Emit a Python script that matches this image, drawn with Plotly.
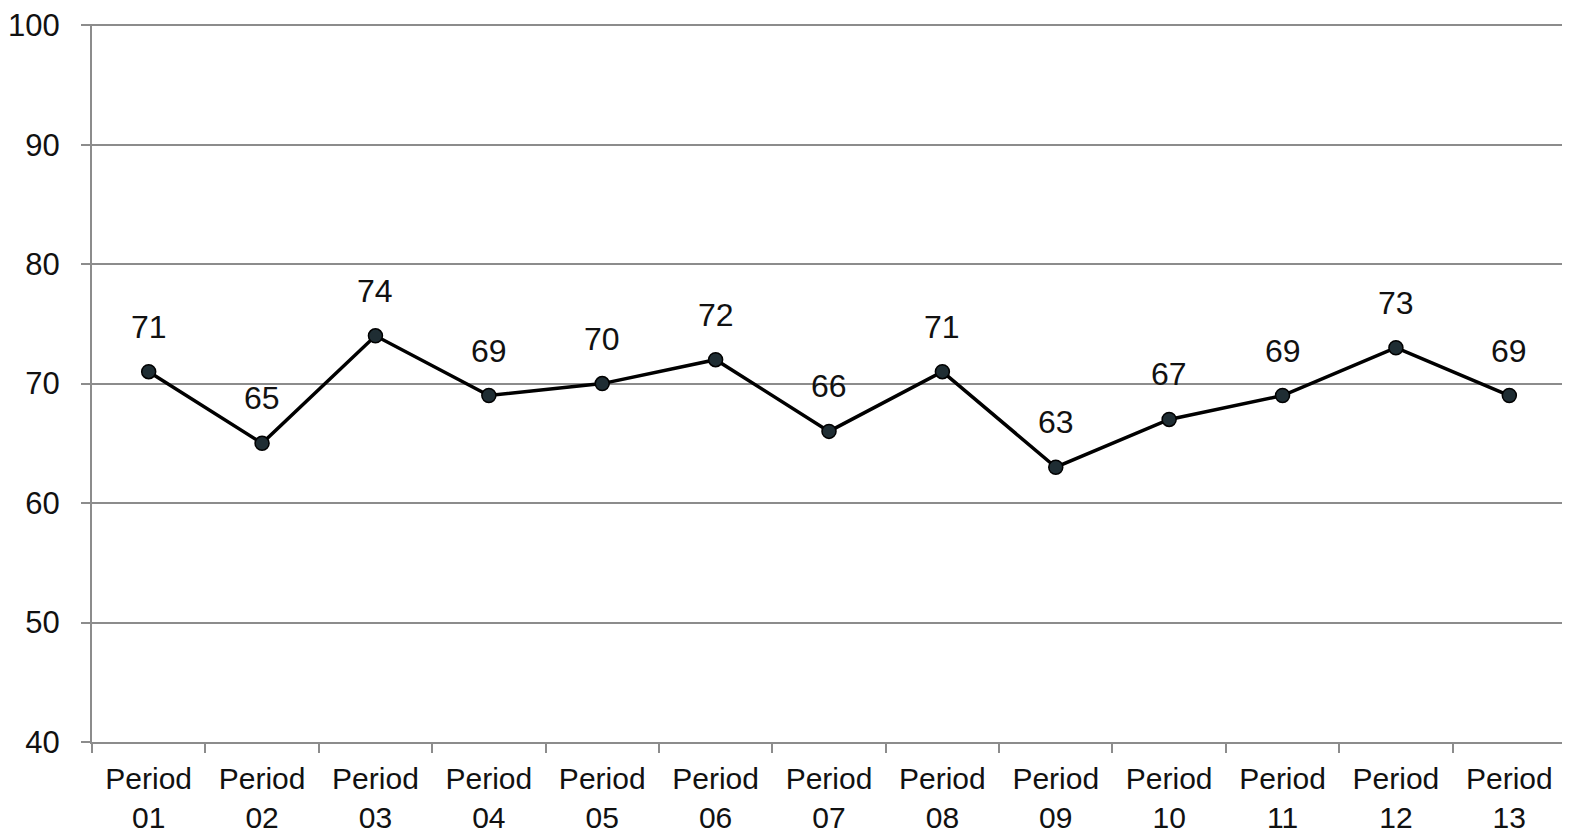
import plotly.graph_objects as go

categories = ["Period<br>01", "Period<br>02", "Period<br>03", "Period<br>04", "Period<br>05",
              "Period<br>06", "Period<br>07", "Period<br>08", "Period<br>09", "Period<br>10",
              "Period<br>11", "Period<br>12", "Period<br>13"]
values = [71, 65, 74, 69, 70, 72, 66, 71, 63, 67, 69, 73, 69]
y_ticks = [40, 50, 60, 70, 80, 90, 100]

font_family = "Liberation Sans, Arial, sans-serif"

fig = go.Figure()
fig.add_trace(go.Scatter(
    x=categories, y=values,
    mode="lines+markers",
    line=dict(color="#000000", width=3.5),
    marker=dict(size=14, color="#1f2d33", line=dict(color="#000000", width=1.5)),
    cliponaxis=False,
    showlegend=False,
))

for c, v in zip(categories, values):
    fig.add_annotation(
        x=c, y=v, text=str(v), showarrow=False,
        yanchor="bottom", yshift=25,
        font=dict(family=font_family, size=32, color="#111111"),
    )

# page body has an 8px default margin, so the figure is offset by 8px
fig.update_layout(
    width=1562, height=825,
    margin=dict(l=84, r=4, t=16, b=91, autoexpand=False),
    paper_bgcolor="white", plot_bgcolor="white",
    font=dict(family=font_family, size=30, color="#111111"),
)
fig.update_xaxes(
    type="category",
    range=[-0.5, 12.5],
    tickson="boundaries",
    ticks="outside", ticklen=9, tickwidth=2, tickcolor="#8c8c8c",
    showline=True, linecolor="#8c8c8c", linewidth=2,
    showgrid=False,
    automargin=False,
    ticklabeloverflow="allow",
    ticklabelstandoff=9,
    tickfont=dict(family=font_family, size=30, color="#111111"),
)
fig.update_yaxes(
    range=[40, 100.1],
    tickvals=y_ticks,
    ticks="outside", ticklen=9, tickwidth=2, tickcolor="#8c8c8c",
    showline=True, linecolor="#8c8c8c", linewidth=2,
    showgrid=True, gridcolor="#8c8c8c", gridwidth=1.5,
    zeroline=False,
    automargin=False,
    ticklabeloverflow="allow",
    ticklabelstandoff=15,
    tickfont=dict(family=font_family, size=31, color="#111111"),
)

fig.write_html("out.html")
